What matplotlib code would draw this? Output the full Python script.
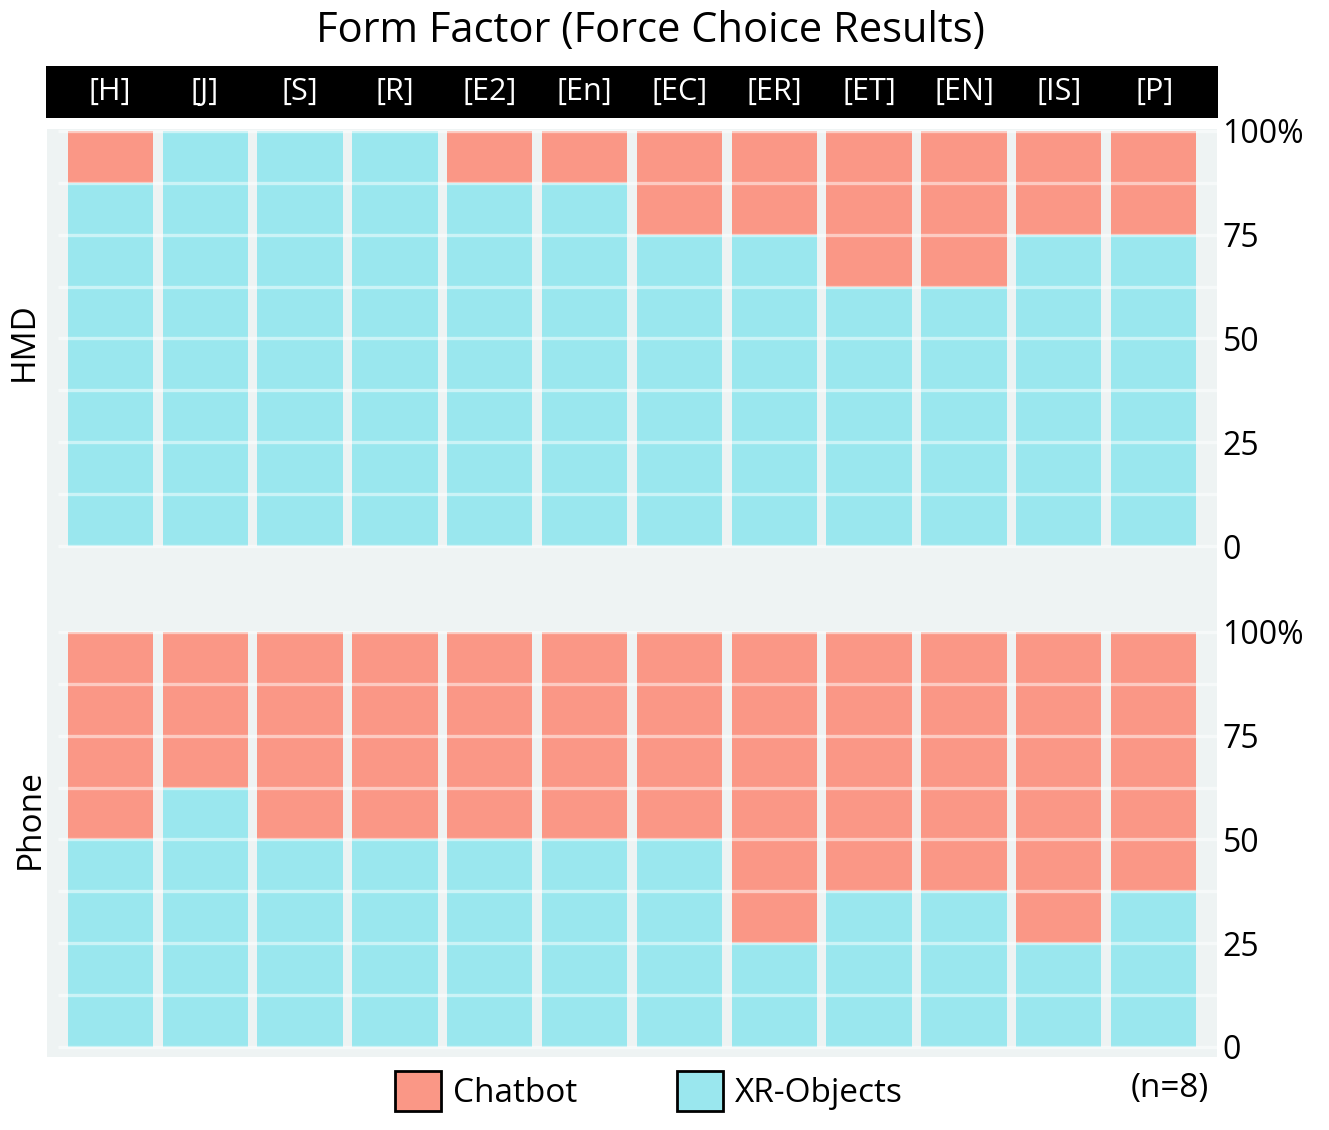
import matplotlib
matplotlib.use('Agg')
import matplotlib.pyplot as plt
from matplotlib.patches import Patch
import numpy as np

plt.rcParams['font.family'] = ['Open Sans', 'DejaVu Sans']

# Data: number of participants (out of 8) choosing Chatbot per condition
conditions = ['[H]', '[J]', '[S]', '[R]', '[E2]', '[En]', '[EC]', '[ER]', '[ET]', '[EN]', '[IS]', '[P]']
n_participants = 8
hmd_chatbot = [1, 0, 0, 0, 1, 1, 2, 2, 3, 3, 2, 2]
phone_chatbot = [4, 3, 4, 4, 4, 4, 4, 6, 5, 5, 6, 5]
devices = ['HMD', 'Phone']
series = ['Chatbot', 'XR-Objects']

chatbot_color = '#FA9786'
xr_color = '#9AE7EE'
panel_bg = '#EEF3F3'

W, H = 1329, 1130
fig = plt.figure(figsize=(W / 100, H / 100), dpi=100)


def px_axes(x0, y0, x1, y1):
    # pixel box (top-left origin) -> figure axes
    return fig.add_axes([x0 / W, 1 - y1 / H, (x1 - x0) / W, (y1 - y0) / H])


xlim = (-0.67, len(conditions) - 1 + 0.67)
x = np.arange(len(conditions))

# strip with the condition names
strip = px_axes(46, 66, 1218, 118)
strip.set_facecolor('black')
strip.set_xlim(xlim)
strip.set_ylim(0, 1)
strip.set_xticks([])
strip.set_yticks([])
for s in strip.spines.values():
    s.set_visible(False)
for xi, lab in zip(x, conditions):
    strip.text(xi, 0.5, lab, color='white', ha='center', va='center', fontsize=22)

panels = [
    (px_axes(47, 129, 1217, 589), hmd_chatbot, (-10.36, 100.48), devices[0], (24, 342)),
    (px_axes(47, 589, 1217, 1057), phone_chatbot, (-2.41, 110.36), devices[1], (30, 819)),
]

for ax, chat, ylim, dev, lab_xy in panels:
    chat_pct = np.array(chat) / n_participants * 100
    xr_pct = 100 - chat_pct
    ax.set_facecolor(panel_bg)
    ax.bar(x, xr_pct, width=0.9, color=xr_color, zorder=2)
    ax.bar(x, chat_pct, width=0.9, bottom=xr_pct, color=chatbot_color, zorder=2)
    ax.hlines(np.arange(0, 101, 12.5), -0.55, xlim[1], colors='white',
              alpha=0.5, linewidth=2.4, zorder=3)
    ax.set_xlim(xlim)
    ax.set_ylim(ylim)
    ax.set_xticks([])
    ax.yaxis.tick_right()
    ax.set_yticks([0, 25, 50, 75, 100])
    ax.set_yticklabels(['0', '25', '50', '75', '100%'])
    ax.tick_params(axis='y', length=0, pad=4, labelsize=23)
    for s in ax.spines.values():
        s.set_visible(False)
    # facet label on the left
    fig.text(lab_xy[0] / W, 1 - lab_xy[1] / H, dev, rotation=90,
             ha='center', va='center', fontsize=24)

fig.text(650 / W, 1 - 31 / H, 'Form Factor (Force Choice Results)', ha='center', va='center', fontsize=30)

handles = [Patch(facecolor=chatbot_color, edgecolor='black', linewidth=2, label=series[0]),
           Patch(facecolor=xr_color, edgecolor='black', linewidth=2, label=series[1])]
fig.legend(handles=handles, loc='center', bbox_to_anchor=(649 / W, 1 - 1091 / H), ncol=2,
           frameon=False, fontsize=24, handlelength=1.38, handleheight=1.44,
           handletextpad=0.36, columnspacing=3.0)

fig.text(1170 / W, 1 - 1089 / H, '(n=8)', ha='center', va='center', fontsize=24)

fig.savefig('out.png', dpi=100)
